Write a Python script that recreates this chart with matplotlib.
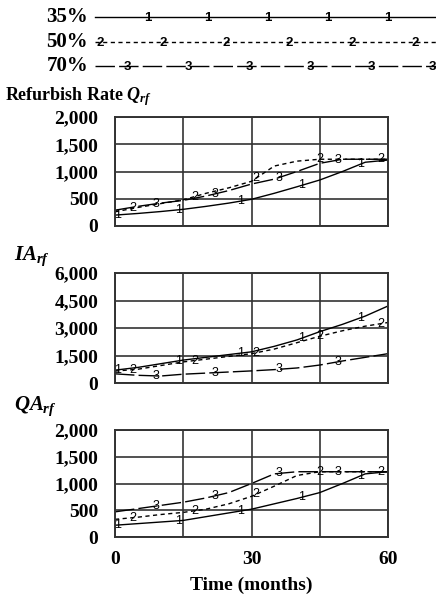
import numpy as np
import matplotlib
matplotlib.use("Agg")
import matplotlib.pyplot as plt

plt.rcParams['mathtext.fontset'] = 'custom'
plt.rcParams['mathtext.it'] = 'Liberation Serif:italic:bold'
plt.rcParams['mathtext.rm'] = 'Liberation Serif:bold'
plt.rcParams['mathtext.bf'] = 'Liberation Serif:bold'

## ----- DATA ----------------------------- ##

months = [0, 5, 10, 15, 20, 25, 30, 35, 40, 45, 50, 55, 60]
run_labels = ["35%", "50%", "70%"]

q_rf = {
    "1": [200, 230, 265, 306, 360, 420, 490, 600, 720, 844, 1000, 1170, 1210],
    "2": [260, 340, 410, 480, 600, 700, 820, 1100, 1190, 1225, 1225, 1225, 1225],
    "3": [290, 360, 420, 470, 550, 650, 770, 860, 1000, 1150, 1225, 1225, 1225],
}
ia_rf = {
    "1": [700, 850, 1050, 1250, 1400, 1550, 1700, 2000, 2350, 2800, 3200, 3650, 4200],
    "2": [650, 750, 950, 1150, 1300, 1450, 1600, 1850, 2200, 2550, 2850, 3100, 3300],
    "3": [500, 420, 380, 480, 540, 600, 660, 730, 820, 980, 1200, 1400, 1600],
}
qa_rf = {
    "1": [220, 250, 280, 310, 380, 450, 520, 620, 720, 830, 1000, 1180, 1220],
    "2": [330, 370, 420, 460, 520, 620, 760, 950, 1150, 1220, 1220, 1220, 1220],
    "3": [470, 530, 590, 650, 730, 830, 1000, 1180, 1220, 1220, 1220, 1220, 1220],
}

# where the run numbers sit along each curve (months)
marker_times = {
    "1": [0.5, 14, 27.5, 41, 54],
    "2": [4, 17.5, 31, 45, 58.5],
    "3": [9, 22, 36, 49],
}

styles = {
    "1": dict(color="black", lw=1.0, ls="-"),
    "2": dict(color="black", lw=1.0, ls=(0, (3, 2.5))),
    "3": dict(color="black", lw=1.0, ls=(0, (14, 3))),
}

W, H = 436, 601
fig = plt.figure(figsize=(W / 100, H / 100), dpi=100)

serif = "Liberation Serif"


def px_axes(left, top, right, bottom):
    return fig.add_axes([left / W, 1 - bottom / H, (right - left) / W, (bottom - top) / H])


## ----- LEGEND ------ ##

leg = fig.add_axes([0, 1 - 80 / H, 1, 80 / H])
leg.set_xlim(0, W)
leg.set_ylim(80, 0)
leg.axis("off")
leg_rows = [17, 42, 66]
leg_marks = {"1": (148, 60), "2": (100, 63), "3": (127, 61)}
for i, key in enumerate(["1", "2", "3"]):
    y = leg_rows[i]
    leg.text(88, y, run_labels[i], ha="right", va="center", fontsize=15,
             family=serif, weight="bold")
    leg.plot([95, W], [y, y], **styles[key])
    start, step = leg_marks[key]
    for x in np.arange(start, W, step):
        leg.text(x, y + 1, key, ha="center", va="center", fontsize=9.5,
                 family="Liberation Sans", weight="bold")


## ----- PANELS ------ ##

def panel(ax, data, ymax, yticks, bottom=False):
    for key in ["1", "2", "3"]:
        ax.plot(months, data[key], **styles[key])
        for tm in marker_times[key]:
            ax.text(tm, np.interp(tm, months, data[key]), key, ha="center",
                    va="center", fontsize=9, family="Liberation Sans")
    ax.set_xlim(0, 60)
    ax.set_ylim(0, ymax)
    ax.set_yticks(yticks)
    ax.set_yticklabels([f"{v:,}" for v in yticks], family=serif,
                       weight="bold", fontsize=14)
    ax.set_xticks([0, 15, 30, 45, 60])
    if bottom:
        ax.set_xticklabels(["0", "", "30", "", "60"], family=serif,
                           weight="bold", fontsize=14)
    else:
        ax.set_xticklabels([])
    ax.tick_params(length=0, pad=12)
    ax.tick_params(axis="x", pad=10)
    ax.grid(True, color="#333333", lw=1.2)
    for s in ax.spines.values():
        s.set_color("#333333")
        s.set_linewidth(1.4)


ax1 = px_axes(115, 117, 388, 226)
panel(ax1, q_rf, 2000, [0, 500, 1000, 1500, 2000])
fig.text(5 / W, 1 - 100 / H, r"Refurbish Rate $Q_{rf}$", ha="left",
         va="baseline", fontsize=13, family=serif, weight="bold")

ax2 = px_axes(115, 273, 388, 383)
panel(ax2, ia_rf, 6000, [0, 1500, 3000, 4500, 6000])
fig.text(14 / W, 1 - 260 / H, r"$IA_{rf}$", ha="left", va="baseline",
         fontsize=15)

ax3 = px_axes(115, 430, 388, 537)
panel(ax3, qa_rf, 2000, [0, 500, 1000, 1500, 2000], bottom=True)
fig.text(14 / W, 1 - 410 / H, r"$QA_{rf}$", ha="left", va="baseline",
         fontsize=15)

fig.text(251 / W, 1 - 585 / H, "Time (months)", ha="center", va="center",
         fontsize=14, family=serif, weight="bold")

fig.savefig("out.png", dpi=100)
